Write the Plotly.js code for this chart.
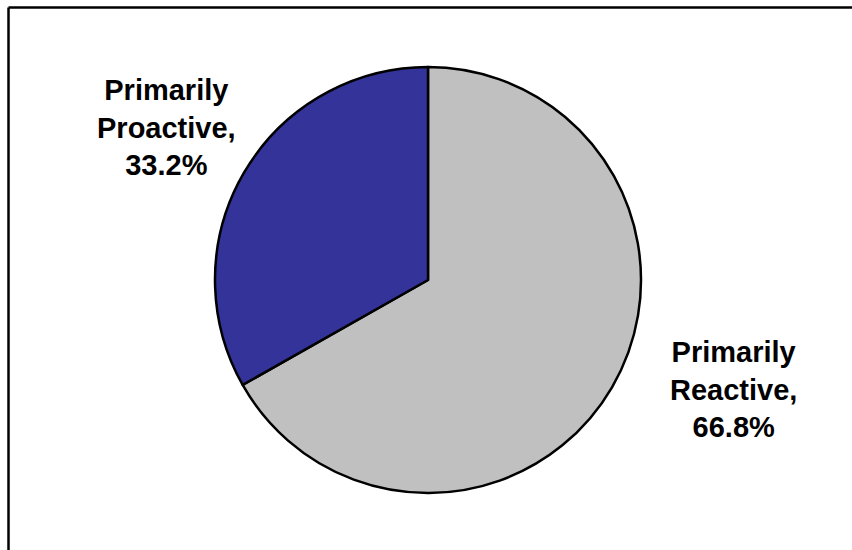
<!DOCTYPE html>
<html>
<head>
<meta charset="utf-8">
<script src="https://cdn.plot.ly/plotly-3.0.1.min.js"></script>
<style>html,body{margin:0;padding:0;background:#fff;}#chart{width:852px;height:550px;}</style>
</head>
<body>
<div id="chart"></div>
<script>
const labels = ["Primarily Reactive", "Primarily Proactive"];
const values = [66.8, 33.2];
const colors = ["#C0C0C0", "#333399"];
const labelText = ["Primarily<br>Reactive,<br>66.8%", "Primarily<br>Proactive,<br>33.2%"];

const W = 852, H = 550;
const cx = 428, cy = 280, r = 213;

const trace = {
  type: "pie",
  labels: labels,
  values: values,
  sort: false,
  direction: "clockwise",
  rotation: 0,
  textinfo: "none",
  hoverinfo: "none",
  showlegend: false,
  marker: {colors: colors, line: {color: "#000000", width: 2.5}},
  domain: {x: [(cx - r) / W, (cx + r) / W], y: [1 - (cy + r) / H, 1 - (cy - r) / H]}
};

const labelPos = [[733.5, 389], [166, 128]];
const annotations = labelText.map((t, i) => ({
  text: "<b>" + t + "</b>",
  xref: "paper", yref: "paper",
  x: labelPos[i][0] / W, y: 1 - labelPos[i][1] / H,
  xanchor: "center", yanchor: "middle",
  showarrow: false,
  align: "center",
  font: {family: "Liberation Sans, Arial, sans-serif", size: 29, color: "#000000"}
}));

const layout = {
  width: W, height: H,
  margin: {l: 0, r: 0, t: 0, b: 0},
  paper_bgcolor: "#ffffff",
  plot_bgcolor: "#ffffff",
  annotations: annotations,
  shapes: [
    {type: "line", xref: "paper", yref: "paper", x0: 8.5 / W, x1: 1, y0: 1 - 7.5 / H, y1: 1 - 7.5 / H, line: {color: "#000000", width: 2.5}},
    {type: "line", xref: "paper", yref: "paper", x0: 8.5 / W, x1: 8.5 / W, y0: 0, y1: 1 - 7.5 / H, line: {color: "#000000", width: 2.5}}
  ]
};

Plotly.newPlot("chart", [trace], layout, {staticPlot: true, displayModeBar: false});
</script>
</body>
</html>
